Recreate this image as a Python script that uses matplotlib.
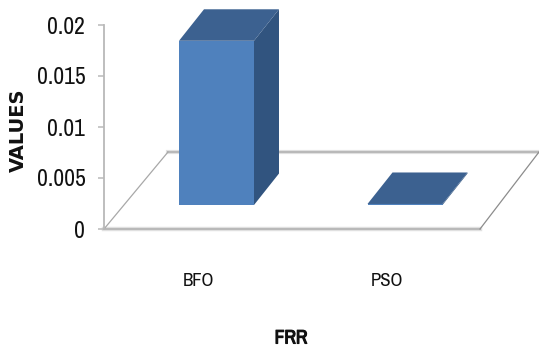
import matplotlib
matplotlib.use("Agg")
import matplotlib.pyplot as plt
import matplotlib.patheffects as pe
from matplotlib.patches import Polygon

categories = ['BFO', 'PSO']
values = [0.0161, 0.0001]
y_ticks = [0, 0.005, 0.01, 0.015, 0.02]
y_tick_labels = ['0', '0.005', '0.01', '0.015', '0.02']

W, H = 539, 351
LEFT, RIGHT = 104, 539
BOTTOM, TOP = 229, 25
SLOT = 188.5
FIRST_CENTER = 216.5

FRONT = '#4f81bd'
TOP_FACE = '#3c6190'
SIDE = '#31547f'
FLOOR = '#b9b9b9'

plt.rcParams['font.family'] = ['Archivo Narrow', 'Lato', 'DejaVu Sans']

fig = plt.figure(figsize=(W / 100, H / 100), dpi=100)
ax = fig.add_axes([LEFT / W, 1 - BOTTOM / H, (RIGHT - LEFT) / W, (BOTTOM - TOP) / H])
ax.set_xlim((LEFT - FIRST_CENTER) / SLOT, (RIGHT - FIRST_CENTER) / SLOT)
ax.set_ylim(0, 0.02)
for s in ['top', 'right', 'bottom']:
    ax.spines[s].set_visible(False)
ax.spines['left'].set_color(FLOOR)
ax.spines['left'].set_linewidth(1.3)

# pixel lengths expressed in data units
px_x = 1 / SLOT
px_y = 0.02 / (BOTTOM - TOP)

# floor of the 3d box
floor_dx = 64 * px_x
floor_dy = 77 * px_y
x0 = ax.get_xlim()[0]
x_front = (480 - FIRST_CENTER) * px_x
ax.plot([x0, x_front], [0, 0], color='#e2e2e2', lw=3.2, clip_on=False, zorder=1)
ax.plot([x0 + floor_dx, x_front + 59 * px_x], [floor_dy, floor_dy], color='#e2e2e2', lw=3, clip_on=False, zorder=1)
ax.plot([x0, x_front], [0, 0], color=FLOOR, lw=1.5, clip_on=False, zorder=1)
ax.plot([x0 + floor_dx, x_front + 59 * px_x], [floor_dy, floor_dy], color=FLOOR, lw=1.5, clip_on=False, zorder=1)
ax.plot([x0, x0 + floor_dx], [0, floor_dy], color='#a8a8a8', lw=0.9, clip_on=False, zorder=1)
ax.plot([x_front, x_front + 59 * px_x], [0, floor_dy], color='#8c8c8c', lw=0.9, clip_on=False, zorder=1)

# bars: front, top and side faces
half = 37.5 * px_x
base = 24 * px_y
dx = 25 * px_x
dy = 31.5 * px_y
for i, v in enumerate(values):
    l, r = i - half, i + half
    b, t = base, base + v
    ax.add_patch(Polygon([(r, b), (r + dx, b + dy), (r + dx, t + dy), (r, t)],
                         fc=SIDE, ec='none', clip_on=False, zorder=2))
    ax.add_patch(Polygon([(l, t), (l + dx, t + dy), (r + dx, t + dy), (r, t)],
                         fc=TOP_FACE, ec='none', clip_on=False, zorder=3))
    ax.add_patch(Polygon([(l, b), (r, b), (r, t), (l, t)],
                         fc=FRONT, ec='none', clip_on=False, zorder=4))

ax.set_yticks(y_ticks)
ax.set_yticklabels(y_tick_labels, fontsize=17, color='#111111')
ax.tick_params(axis='y', length=4.5, width=1.1, color=FLOOR, pad=9)

# category labels sit left of the bars, under the front floor edge
ax.set_xticks([i - 18 * px_x for i in range(len(categories))])
ax.set_xticklabels(categories, fontsize=13.5, color='#111111')
ax.tick_params(axis='x', length=0, pad=32)

fig.text(18 / W, 1 - 130 / H, 'VALUES', rotation=90, ha='center', va='center',
         fontsize=14, fontweight='bold', color='#111111', family=['DejaVu Sans'])
frr = fig.text(291 / W, 1 - 338 / H, 'FRR', ha='center', va='center',
               fontsize=14, color='#111111')
# narrow face has no bold cut, thicken it with a stroke
frr.set_path_effects([pe.withStroke(linewidth=0.8, foreground='#111111')])

fig.savefig('out.png', dpi=100)
